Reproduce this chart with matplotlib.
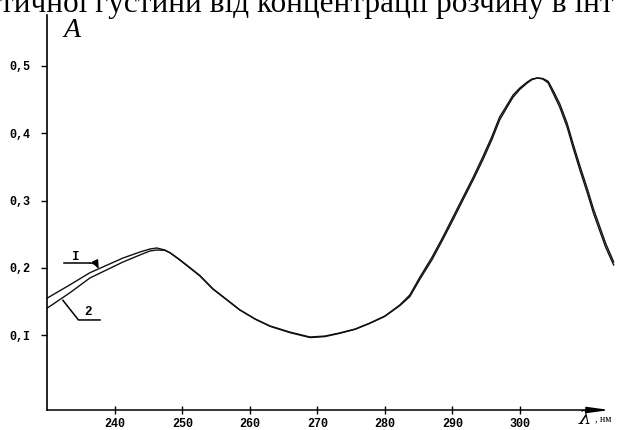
import matplotlib
matplotlib.use('Agg')
import matplotlib.pyplot as plt

# wavelength, nm (shared by both spectra)
wl = [230.0, 233.3, 236.3, 241.2, 243.7, 245.2, 246.2, 247.4, 248.2, 249.6,
      251.1, 252.6, 254.5, 256.6, 258.5, 260.8, 263.0, 265.9, 268.9, 271.1,
      273.3, 275.6, 277.8, 280.0, 282.2, 283.7, 285.2, 287.0, 288.6, 290.1,
      291.6, 293.1, 294.5, 295.9, 297.0, 298.1, 299.0, 300.0, 301.1, 301.8,
      302.6, 303.4, 304.2, 304.9, 305.9, 307.0, 307.9, 308.9, 310.0, 310.9,
      311.8, 312.7, 313.9]

# optical density, curve 1
a1 = [0.1555, 0.1748, 0.1930, 0.2148, 0.2237, 0.2282, 0.2297, 0.2267, 0.2223, 0.2119,
      0.2000, 0.1881, 0.1688, 0.1525, 0.1377, 0.1243, 0.1140, 0.1050, 0.0976, 0.0990,
      0.1036, 0.1095, 0.1184, 0.1288, 0.1450, 0.1600, 0.1866, 0.2163, 0.2460, 0.2757,
      0.3053, 0.3350, 0.3647, 0.3960, 0.4240, 0.4418, 0.4567, 0.4671, 0.4760, 0.4804,
      0.4819, 0.4804, 0.4745, 0.4600, 0.4389, 0.4092, 0.3780, 0.3454, 0.3113, 0.2816,
      0.2564, 0.2312, 0.2045]

# optical density, curve 2
a2 = [0.1407, 0.1630, 0.1852, 0.2089, 0.2193, 0.2253, 0.2267, 0.2262, 0.2225, 0.2125,
      0.2008, 0.1888, 0.1694, 0.1530, 0.1380, 0.1240, 0.1134, 0.1042, 0.0968, 0.0982,
      0.1030, 0.1090, 0.1180, 0.1282, 0.1440, 0.1575, 0.1835, 0.2125, 0.2425, 0.2715,
      0.3015, 0.3310, 0.3600, 0.3915, 0.4195, 0.4385, 0.4535, 0.4650, 0.4745, 0.4795,
      0.4820, 0.4812, 0.4770, 0.4640, 0.4440, 0.4150, 0.3840, 0.3515, 0.3175, 0.2880,
      0.2625, 0.2370, 0.2090]

x_ticks = [240, 250, 260, 270, 280, 290, 300]
y_ticks = [0.1, 0.2, 0.3, 0.4, 0.5]
y_tick_labels = ['0,I', '0,2', '0,3', '0,4', '0,5']

W, H = 620, 430
fig = plt.figure(figsize=(W / 100, H / 100), dpi=100)

# axes box in pixels: left 47, right 615, top 15, bottom 410
L, R, T, B = 47, 615, 15, 410
ax = fig.add_axes([L / W, 1 - B / H, (R - L) / W, (B - T) / H])
ax.patch.set_alpha(0)

xmin, xmax = 229.94, 314.1
ymin, ymax = -0.0107, 0.5754
ax.set_xlim(xmin, xmax)
ax.set_ylim(ymin, ymax)

# the two spectra
ax.plot(wl, a1, color='#111111', lw=1.0, solid_joinstyle='round')
ax.plot(wl, a2, color='#111111', lw=1.0, solid_joinstyle='round')

# axes: only the left spine, x axis drawn as an arrow
for s in ['top', 'right', 'bottom']:
    ax.spines[s].set_visible(False)
ax.spines['left'].set_linewidth(1.2)
ax.annotate('', xy=(313.3, ymin), xytext=(xmin, ymin),
            arrowprops=dict(arrowstyle='-|>,head_length=1.3,head_width=0.18',
                            lw=1.1, color='k', shrinkA=0, shrinkB=0),
            annotation_clip=False)

mono = 'Liberation Mono'
ax.set_xticks(x_ticks)
ax.set_xticklabels([str(v) for v in x_ticks], family=mono, fontsize=8.5, weight='bold')
ax.set_yticks(y_ticks)
ax.set_yticklabels(y_tick_labels, family=mono, fontsize=8.5, weight='bold')
ax.tick_params(axis='x', direction='inout', length=6, width=1, pad=3)
ax.tick_params(axis='y', direction='out', length=4, width=1, pad=8)

# curve labels with leader lines
ax.text(234.2, 0.216, 'I', family=mono, fontsize=9, weight='bold', ha='center', va='center')
ax.plot([232.5, 236.3], [0.2074, 0.2074], color='k', lw=1.1)
ax.annotate('', xy=(237.6, 0.1985), xytext=(236.3, 0.2074),
            arrowprops=dict(arrowstyle='-|>,head_length=0.5,head_width=0.2',
                            lw=1.0, color='k', shrinkA=0, shrinkB=0,
                            connectionstyle='arc3,rad=-0.3'))
ax.text(236.0, 0.1340, '2', family=mono, fontsize=9, weight='bold', ha='center', va='center')
ax.plot([232.3, 234.6, 237.8], [0.1520, 0.1229, 0.1229], color='k', lw=1.1)

# axis titles
fig.text(64 / W, 1 - 37 / H, 'A', family='Liberation Serif', style='italic',
         fontsize=20, ha='left', va='baseline')
fig.text(579 / W, 1 - 424 / H, 'λ', family='DejaVu Serif', style='italic',
         fontsize=14, ha='left', va='baseline')
fig.text(595 / W, 1 - 421 / H, ', нм', family='Liberation Serif',
         fontsize=7, ha='left', va='baseline')

# cut-off line of the page text above the figure
fig.text(0, 1 - 12 / H, 'тичної густини від концентрації розчину в інт',
         family='Liberation Serif', fontsize=22.5, ha='left', va='baseline')

fig.savefig('out.png', dpi=100)
